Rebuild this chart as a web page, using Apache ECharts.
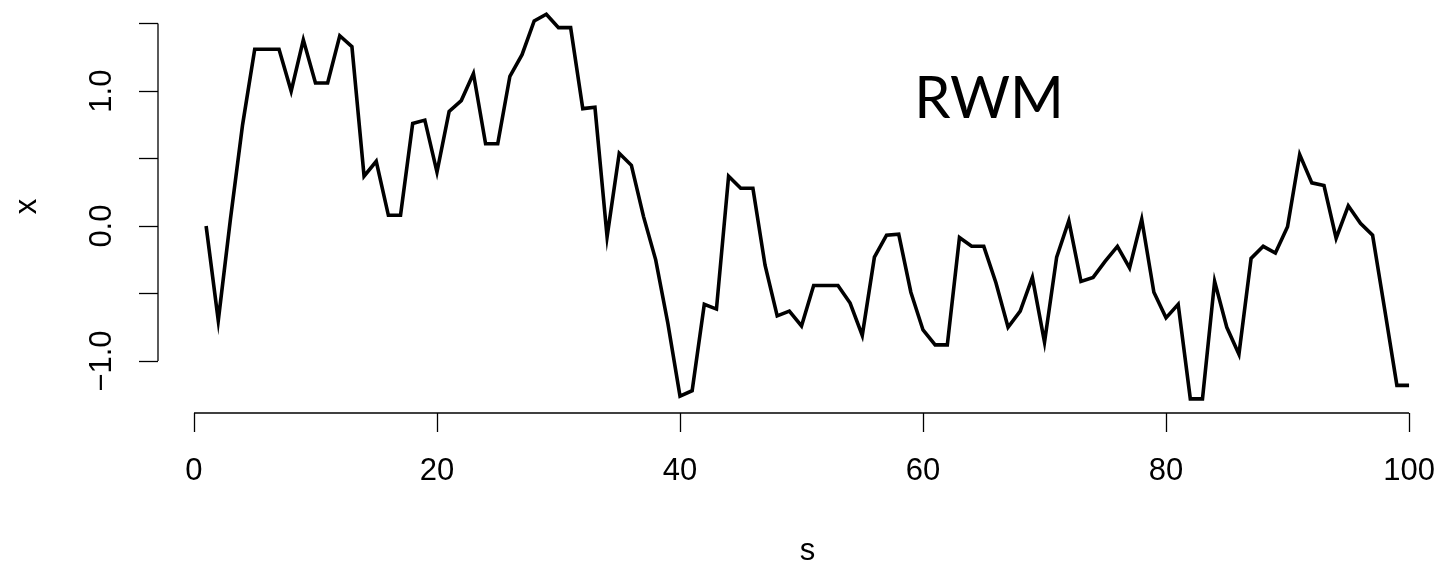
<!DOCTYPE html>
<html>
<head>
<meta charset="utf-8">
<title>RWM</title>
<script src="https://cdn.jsdelivr.net/npm/echarts@6/dist/echarts.min.js"></script>
<style>
  html, body { margin: 0; padding: 0; background: #fff; }
  #main { width: 1441px; height: 569px; }
</style>
</head>
<body>
<div id="main"></div>
<script>
// trace values, one per step s = 1..100
const xValues = [
  0.00, -0.70, 0.05, 0.75, 1.31, 1.31, 1.31, 1.00, 1.38, 1.06,
  1.06, 1.41, 1.33, 0.37, 0.48, 0.08, 0.08, 0.76, 0.785, 0.40,
  0.85, 0.93, 1.13, 0.61, 0.61, 1.11, 1.27, 1.52, 1.57, 1.47,
  1.47, 0.87, 0.88, -0.08, 0.54, 0.45, 0.07, -0.25, -0.72, -1.26,
  -1.22, -0.58, -0.615, 0.37, 0.28, 0.28, -0.29, -0.665, -0.63, -0.74,
  -0.44, -0.44, -0.44, -0.57, -0.81, -0.23, -0.067, -0.06, -0.49, -0.77,
  -0.88, -0.88, -0.085, -0.15, -0.15, -0.42, -0.75, -0.63, -0.38, -0.86,
  -0.23, 0.04, -0.41, -0.38, -0.26, -0.15, -0.31, 0.05, -0.49, -0.68,
  -0.58, -1.28, -1.28, -0.41, -0.75, -0.95, -0.24, -0.15, -0.20, -0.005,
  0.53, 0.32, 0.30, -0.09, 0.15, 0.02, -0.067, -0.62, -1.18, -1.18
];
// axis ticks
const sTicks = [0, 20, 40, 60, 80, 100];
const yTicks = [-1.0, -0.5, 0.0, 0.5, 1.0, 1.5];
const yLabels = [-1.0, 0.0, 1.0];

const font = '"Liberation Sans", Arial, sans-serif';

const myChart = echarts.init(document.getElementById('main'));

const option = {
  animation: false,
  grid: {
    left: 158,
    right: 0,
    top: 0,
    bottom: 156,
    containLabel: false,
    outerBoundsMode: 'none'
  },
  xAxis: {
    type: 'value',
    min: -2.96,
    max: 102.63,
    name: 's',
    nameLocation: 'middle',
    nameGap: 123,
    nameTextStyle: { color: '#000', fontSize: 31, fontFamily: font, padding: [0, 0, 0, 16] },
    axisLine: { show: false, onZero: false },
    splitLine: { show: false },
    axisTick: {
      show: true,
      length: 19,
      customValues: sTicks,
      lineStyle: { color: '#000', width: 1.3 }
    },
    axisLabel: {
      customValues: sTicks,
      margin: 43,
      color: '#000',
      fontSize: 31,
      fontFamily: font
    }
  },
  yAxis: {
    type: 'value',
    min: -1.385,
    max: 1.675,
    name: 'x',
    nameLocation: 'middle',
    nameGap: 115,
    nameRotate: 90,
    nameTextStyle: { color: '#000', fontSize: 31, fontFamily: font },
    axisLine: { show: false, onZero: false },
    splitLine: { show: false },
    axisTick: {
      show: true,
      length: 19,
      customValues: yTicks,
      lineStyle: { color: '#000', width: 1.3 }
    },
    axisLabel: {
      customValues: yLabels,
      rotate: 90,
      margin: 40,
      color: '#000',
      fontSize: 31,
      fontFamily: font,
      formatter: function (v) {
        return v.toFixed(1).replace('-', '\u2212');
      }
    }
  },
  series: [{
    type: 'line',
    data: xValues.map(function (v, i) { return [i + 1, v]; }),
    showSymbol: false,
    lineStyle: { color: '#000', width: 3.6, join: 'miter' },
    clip: false
  }]
};
myChart.setOption(option);

// R style axis lines: only from first to last tick
const p0 = myChart.convertToPixel({ gridIndex: 0 }, [sTicks[0], yTicks[0]]);
const p1 = myChart.convertToPixel({ gridIndex: 0 }, [sTicks[sTicks.length - 1], yTicks[yTicks.length - 1]]);
const pBottom = myChart.convertToPixel({ yAxisIndex: 0 }, option.yAxis.min);
const pLeft = myChart.convertToPixel({ xAxisIndex: 0 }, option.xAxis.min);

myChart.setOption({
  graphic: [
    {
      type: 'line',
      shape: { x1: p0[0], y1: pBottom, x2: p1[0], y2: pBottom },
      style: { stroke: '#000', lineWidth: 1.3 }
    },
    {
      type: 'line',
      shape: { x1: pLeft, y1: p0[1], x2: pLeft, y2: p1[1] },
      style: { stroke: '#000', lineWidth: 1.3 }
    },
    {
      type: 'text',
      x: 989,
      y: 99,
      style: {
        text: 'RWM',
        fill: '#000',
        font: '58px Lato, "Open Sans", sans-serif',
        textAlign: 'center',
        textVerticalAlign: 'middle'
      }
    }
  ]
});

window.addEventListener('resize', function () {
  myChart.resize();
});
</script>
</body>
</html>
